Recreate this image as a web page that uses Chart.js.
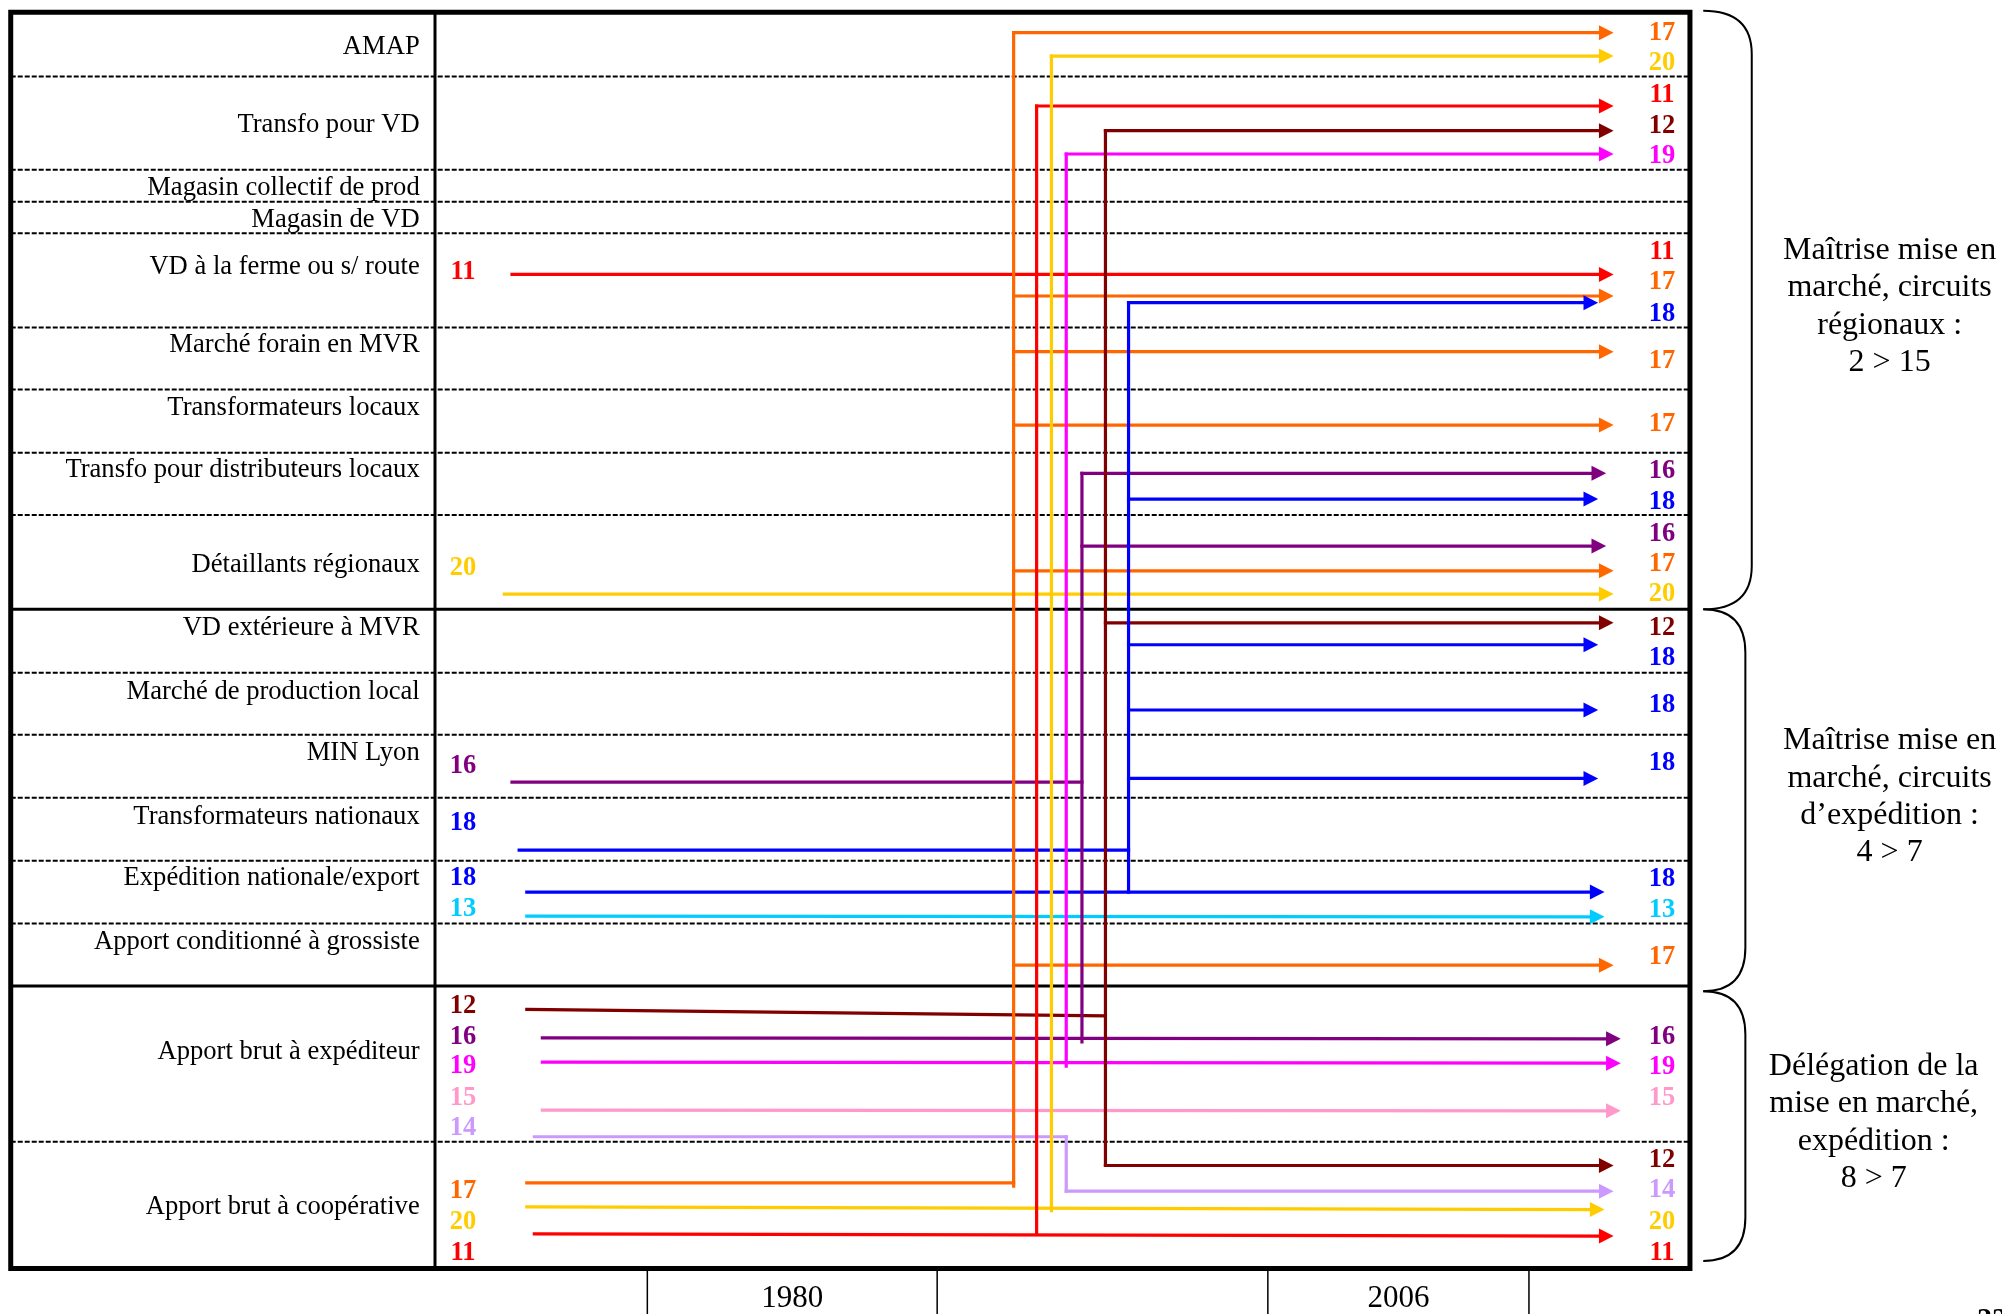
<!DOCTYPE html>
<html>
<head>
<meta charset="utf-8">
<script src="https://cdn.jsdelivr.net/npm/chart.js@4.4.1/dist/chart.umd.min.js"></script>
<style>
  html, body { margin: 0; padding: 0; background: #fff; overflow: hidden; }
</style>
</head>
<body>
<canvas id="chart" width="2002" height="1314"></canvas>
<script>
// Repère : unités de la figure (1568 x 1029), y vers le bas

// Circuits (lignes du tableau) et hauteur de leur libellé
const circuits = [
  'AMAP', 'Transfo pour VD', 'Magasin collectif de prod', 'Magasin de VD',
  'VD à la ferme ou s/ route', 'Marché forain en MVR', 'Transformateurs locaux',
  'Transfo pour distributeurs locaux', 'Détaillants régionaux', 'VD extérieure à MVR',
  'Marché de production local', 'MIN Lyon', 'Transformateurs nationaux',
  'Expédition nationale/export', 'Apport conditionné à grossiste',
  'Apport brut à expéditeur', 'Apport brut à coopérative'
];
const circuitY = [35.2, 96.6, 146.2, 171, 208, 268.9, 318.5, 366.8, 441.2, 490.8,
                  540.4, 588.7, 638.3, 686.6, 736.2, 822.3, 943.8];

// Séparations entre lignes
const dashedEdges = [60, 133, 158, 182.7, 256.4, 305, 354.5, 403.3, 526.8, 575.4, 624.7, 674.1, 723.1, 894.2];
const solidEdges = [477.2, 772.2];

// Exploitations et couleurs
const farms = ['11', '12', '13', '14', '15', '16', '17', '18', '19', '20'];
const farmColors = ['#FF0000', '#800000', '#00CCFF', '#CC99FF', '#FF99CC',
                    '#800080', '#FF6600', '#0000FF', '#FF00FF', '#FFCC00'];

// Numéros colonne 1980 : [exploitation, y]
const labels1980 = [
  ['11', 212], ['20', 443.3], ['16', 598.4], ['18', 643.5], ['18', 686.6], ['13', 711],
  ['12', 786.3], ['16', 811], ['19', 834], ['15', 858.4], ['14', 881.9],
  ['17', 931.5], ['20', 955.5], ['11', 979.8]
];
// Numéros colonne 2006 : [exploitation, y]
const labels2006 = [
  ['17', 24.8], ['20', 47.8], ['11', 73.1], ['12', 97.4], ['19', 120.6],
  ['11', 195.8], ['17', 220], ['18', 244.6], ['17', 281.4], ['17', 330.8],
  ['16', 367.3], ['18', 391.6], ['16', 416.9], ['17', 440.4], ['20', 464.2],
  ['12', 490.3], ['18', 514.3], ['18', 550.9], ['18', 596.5], ['18', 687.1],
  ['13', 711.4], ['17', 748], ['16', 810.6], ['19', 834.1], ['15', 858.4],
  ['12', 907.2], ['14', 930.7], ['20', 955.5], ['11', 979.8]
];

// Circuits conservés (trait direct 1980 -> 2006) : [exploitation, x départ, y départ, x pointe, y pointe]
const kept = [
  ['11', 401, 214.9, 1263.8, 214.9],
  ['11', 418.5, 966.2, 1263.8, 968],
  ['13', 412.6, 717.4, 1256.7, 718],
  ['15', 424.8, 869.4, 1269.4, 869.9],
  ['16', 424.8, 812.7, 1269.4, 813.5],
  ['18', 412.6, 698.6, 1256.7, 698.6],
  ['19', 424.8, 831.8, 1269.4, 832.6],
  ['20', 395, 465.2, 1263.8, 465.2],
  ['20', 412.6, 945.1, 1256.7, 947.2]
];
// Circuits abandonnés rejoignant le tronc : [exploitation, x départ, y départ, y arrivée au tronc]
const feeds = [
  ['12', 412.6, 790.5, 795.5],
  ['14', 418.5, 890.2, 890.2],
  ['16', 401, 612.5, 612.5],
  ['17', 412.6, 926.3, 926.3],
  ['18', 406.6, 665.7, 665.7]
];
// Troncs verticaux : [exploitation, x, y haut, y bas]
const trunks = [
  ['11', 811.9, 83, 966.2],
  ['12', 865.8, 102.3, 912.7],
  ['14', 835.1, 890.2, 932.8],
  ['16', 847.4, 370.7, 816],
  ['17', 793.9, 25.6, 928.9],
  ['18', 883.9, 237, 698.6],
  ['19', 835.1, 120.6, 835],
  ['20', 823.5, 43.9, 948]
];
// Nouveaux circuits 2006 : [exploitation, y, x pointe]
const branches = [
  ['11', 83, 1263.8],
  ['12', 102.3, 1263.8], ['12', 487.7, 1263.8], ['12', 912.7, 1263.8],
  ['14', 932.8, 1263.8],
  ['16', 370.7, 1258], ['16', 427.6, 1258],
  ['17', 25.6, 1263.8], ['17', 231.8, 1263.8], ['17', 275.4, 1263.8],
  ['17', 332.9, 1263.8], ['17', 447, 1263.8], ['17', 755.8, 1263.8],
  ['18', 237, 1251.7], ['18', 390.8, 1251.7], ['18', 504.9, 1251.7],
  ['18', 556, 1251.7], ['18', 609.6, 1251.7],
  ['19', 120.6, 1263.8],
  ['20', 43.9, 1263.8]
];

// Regroupements (accolades)
const groupTexts = [
  ['Maîtrise mise en', 'marché, circuits', 'régionaux :', '2 > 15'],
  ['Maîtrise mise en', 'marché, circuits', 'd’expédition :', '4 > 7'],
  ['Délégation de la', 'mise en marché,', 'expédition :', '8 > 7']
];
const years = ['1980', '2006'];
const pageNumber = '22';

// --- mise en page ---
const frame = { left: 8.4, right: 1323.6, top: 9.5, bottom: 993.4, split: 340.7 };
const yearBoxes = [[507, 734], [993, 1197.5]];
const HEAD = 11.5;  // longueur de la pointe, unités figure
const DY = 1.3;     // petit recalage vertical des textes

function colorOf(f) { return farmColors[farms.indexOf(f)]; }

const datasets = [];
function addLine(points, color, width, extra) {
  datasets.push(Object.assign({
    data: points.map(p => ({ x: p[0], y: p[1] })),
    borderColor: color,
    borderWidth: width,
    showLine: true,
    pointRadius: 0,
    pointHoverRadius: 0,
    fill: false,
    tension: 0,
    borderCapStyle: 'square',
    borderJoinStyle: 'miter',
    order: 1
  }, extra || {}));
}

// tableau
addLine([[frame.left, frame.top], [frame.right, frame.top], [frame.right, frame.bottom],
         [frame.left, frame.bottom], [frame.left, frame.top]], '#000', 5, { order: 2 });
addLine([[frame.split, frame.top], [frame.split, frame.bottom]], '#000', 3, { order: 2 });
solidEdges.forEach(y => addLine([[frame.left, y], [frame.right, y]], '#000', 3, { order: 2 }));
dashedEdges.forEach(y => addLine([[frame.left, y], [frame.right, y]], '#000', 2,
  { order: 2, borderDash: [5, 2], borderCapStyle: 'butt' }));
yearBoxes.forEach(b => addLine([[b[0], 1029], [b[0], frame.bottom], [b[1], frame.bottom], [b[1], 1029]],
  '#000', 1.5, { order: 2 }));

// flux
trunks.forEach(t => addLine([[t[1], t[2]], [t[1], t[3]]], colorOf(t[0]), 3.2));
feeds.forEach(f => {
  const tx = trunks.find(t => t[0] === f[0])[1];
  addLine([[f[1], f[2]], [tx, f[3]]], colorOf(f[0]), 3.2);
});
branches.forEach(b => {
  const tx = trunks.find(t => t[0] === b[0])[1];
  addLine([[tx, b[1]], [b[2] - HEAD + 2, b[1]]], colorOf(b[0]), 3.2, { tip: [b[2], b[1]] });
});
kept.forEach(k => {
  addLine([[k[1], k[2]], [k[3] - HEAD + 2, k[4]]], colorOf(k[0]), 3.2, { tip: [k[3], k[4]] });
});

const whiteBg = {
  id: 'whiteBg',
  beforeDraw(chart) {
    const ctx = chart.ctx;
    ctx.save();
    ctx.fillStyle = '#fff';
    ctx.fillRect(0, 0, chart.width, chart.height);
    ctx.restore();
  }
};

const decor = {
  id: 'decor',
  afterDatasetsDraw(chart) {
    const ctx = chart.ctx;
    const sx = chart.scales.x, sy = chart.scales.y;
    const px = v => sx.getPixelForValue(v);
    const py = v => sy.getPixelForValue(v + DY);
    const headLen = px(HEAD) - px(0);
    ctx.save();

    // pointes de flèches
    chart.data.datasets.forEach(ds => {
      if (!ds.tip) return;
      const x = px(ds.tip[0]), y = sy.getPixelForValue(ds.tip[1]);
      ctx.fillStyle = ds.borderColor;
      ctx.beginPath();
      ctx.moveTo(x, y);
      ctx.lineTo(x - headLen, y - 7.5);
      ctx.lineTo(x - headLen, y + 7.5);
      ctx.closePath();
      ctx.fill();
    });

    ctx.textBaseline = 'middle';

    // libellés des circuits
    ctx.fillStyle = '#000';
    ctx.textAlign = 'right';
    ctx.font = '26.6px "Liberation Serif"';
    circuits.forEach((c, i) => ctx.fillText(c, px(frame.split - 12), py(circuitY[i])));

    // numéros des exploitations
    ctx.textAlign = 'center';
    ctx.font = 'bold 26.5px "Liberation Serif"';
    labels1980.forEach(([f, y]) => { ctx.fillStyle = colorOf(f); ctx.fillText(f, px(362.6), py(y)); });
    labels2006.forEach(([f, y]) => { ctx.fillStyle = colorOf(f); ctx.fillText(f, px(1301.7), py(y)); });

    // accolades
    const spans = [[frame.top - 1, solidEdges[0]], [solidEdges[0], solidEdges[1] + 4], [solidEdges[1] + 4, frame.bottom - 6]];
    const braceX = [1372, 1367, 1367];
    const textX = [1480, 1480, 1467.5];
    ctx.strokeStyle = '#000';
    ctx.lineWidth = 2;
    spans.forEach((s, i) => {
      const x0 = px(1334), xv = px(braceX[i]);
      const y0 = sy.getPixelForValue(s[0]), y1 = sy.getPixelForValue(s[1]);
      const r = sy.getPixelForValue(34) - sy.getPixelForValue(0);
      ctx.beginPath();
      ctx.moveTo(x0, y0);
      ctx.quadraticCurveTo(xv, y0, xv, y0 + r);
      ctx.lineTo(xv, y1 - r);
      ctx.quadraticCurveTo(xv, y1, x0, y1);
      ctx.stroke();

      ctx.fillStyle = '#000';
      ctx.font = '32px "Liberation Serif"';
      const mid = (s[0] + s[1]) / 2 - 4;
      groupTexts[i].forEach((t, j) => {
        ctx.fillText(t, px(textX[i]), py(mid + (j - 1.5) * 29.2));
      });
    });

    // années
    ctx.fillStyle = '#000';
    ctx.font = '31px "Liberation Serif"';
    years.forEach((yr, i) => {
      ctx.fillText(yr, px((yearBoxes[i][0] + yearBoxes[i][1]) / 2), py(1015.5));
    });

    // numéro de page (coupé en bas)
    ctx.textAlign = 'left';
    ctx.textBaseline = 'top';
    ctx.font = 'bold 30px "Liberation Serif"';
    ctx.fillText(pageNumber, px(1548.5), py(1021));

    ctx.restore();
  }
};

new Chart(document.getElementById('chart'), {
  type: 'scatter',
  data: { datasets: datasets },
  options: {
    responsive: false,
    devicePixelRatio: 1,
    animation: false,
    layout: { padding: 0 },
    plugins: { legend: { display: false }, tooltip: { enabled: false } },
    events: [],
    scales: {
      x: { type: 'linear', min: 0, max: 1568, display: false },
      y: { type: 'linear', min: 0, max: 1029, reverse: true, display: false }
    }
  },
  plugins: [whiteBg, decor]
});
</script>
</body>
</html>
